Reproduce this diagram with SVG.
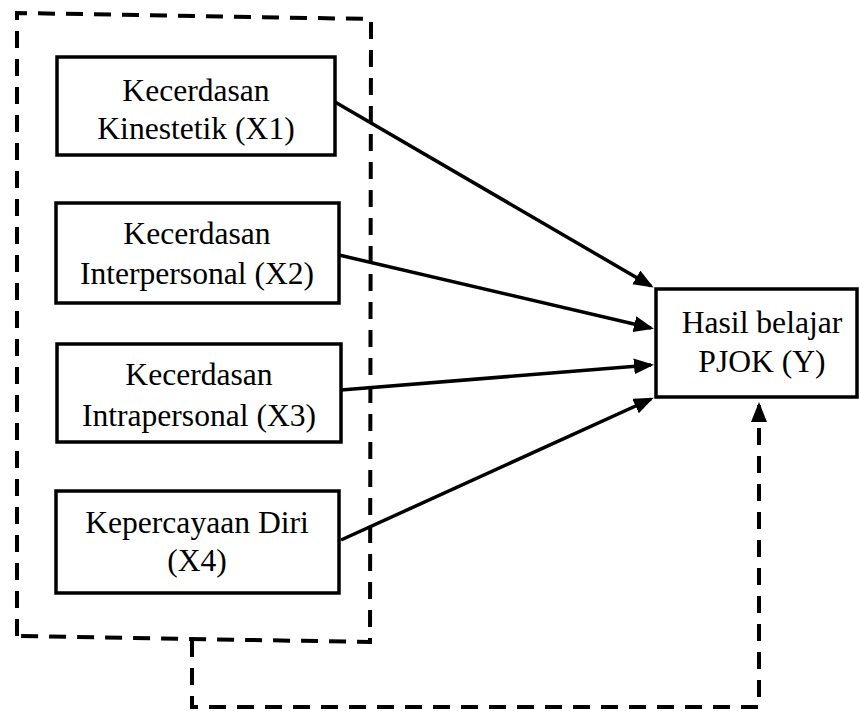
<svg xmlns="http://www.w3.org/2000/svg" width="859" height="711" viewBox="0 0 859 711">
<style>
.box{fill:#fff;stroke:#000;stroke-width:3.5}
.t{font-family:"Liberation Serif","Times New Roman",serif;font-size:31.6px;fill:#000;text-anchor:middle}
.arr{fill:none;stroke:#000;stroke-width:3.5}
.dash{fill:none;stroke:#000;stroke-width:4}
.dash{stroke-dasharray:17 11}
</style>
<defs>
<marker id="ah" markerUnits="userSpaceOnUse" markerWidth="21" markerHeight="17" refX="17" refY="8" orient="auto">
<path d="M0,0 L20,8 L0,16 z" fill="#000"/>
</marker>
</defs>
<g id="group-box">
<path class="dash" d="M17,636 L17,13 L371,19 L370,642 L17,636"/>
</g>
<g id="x1">
<rect class="box" x="57" y="57" width="278" height="98"/>
<text class="t" x="196" y="101">Kecerdasan</text>
<text class="t" x="196" y="139">Kinestetik (X1)</text>
</g>
<g id="x2">
<rect class="box" x="56" y="203" width="283" height="100"/>
<text class="t" x="197" y="244">Kecerdasan</text>
<text class="t" x="197" y="284">Interpersonal (X2)</text>
</g>
<g id="x3">
<rect class="box" x="57" y="344" width="284" height="98"/>
<text class="t" x="199" y="385">Kecerdasan</text>
<text class="t" x="199" y="426">Intrapersonal (X3)</text>
</g>
<g id="x4">
<rect class="box" x="56" y="491" width="283" height="102"/>
<text class="t" x="197" y="533">Kepercayaan Diri</text>
<text class="t" x="197" y="571">(X4)</text>
</g>
<g id="y">
<rect class="box" x="656" y="289" width="201" height="108"/>
<text class="t" x="762" y="333">Hasil belajar</text>
<text class="t" x="762" y="372">PJOK (Y)</text>
</g>
<g id="connectors">
<line class="arr" x1="335" y1="102" x2="651" y2="286" marker-end="url(#ah)"/>
<line class="arr" x1="339" y1="255" x2="651" y2="328" marker-end="url(#ah)"/>
<line class="arr" x1="341" y1="390" x2="651" y2="365" marker-end="url(#ah)"/>
<line class="arr" x1="341" y1="540" x2="651" y2="399" marker-end="url(#ah)"/>
<path class="dash" d="M192,640 L192,707 L759,707 L759,405" marker-end="url(#ah)"/>
</g>
</svg>
